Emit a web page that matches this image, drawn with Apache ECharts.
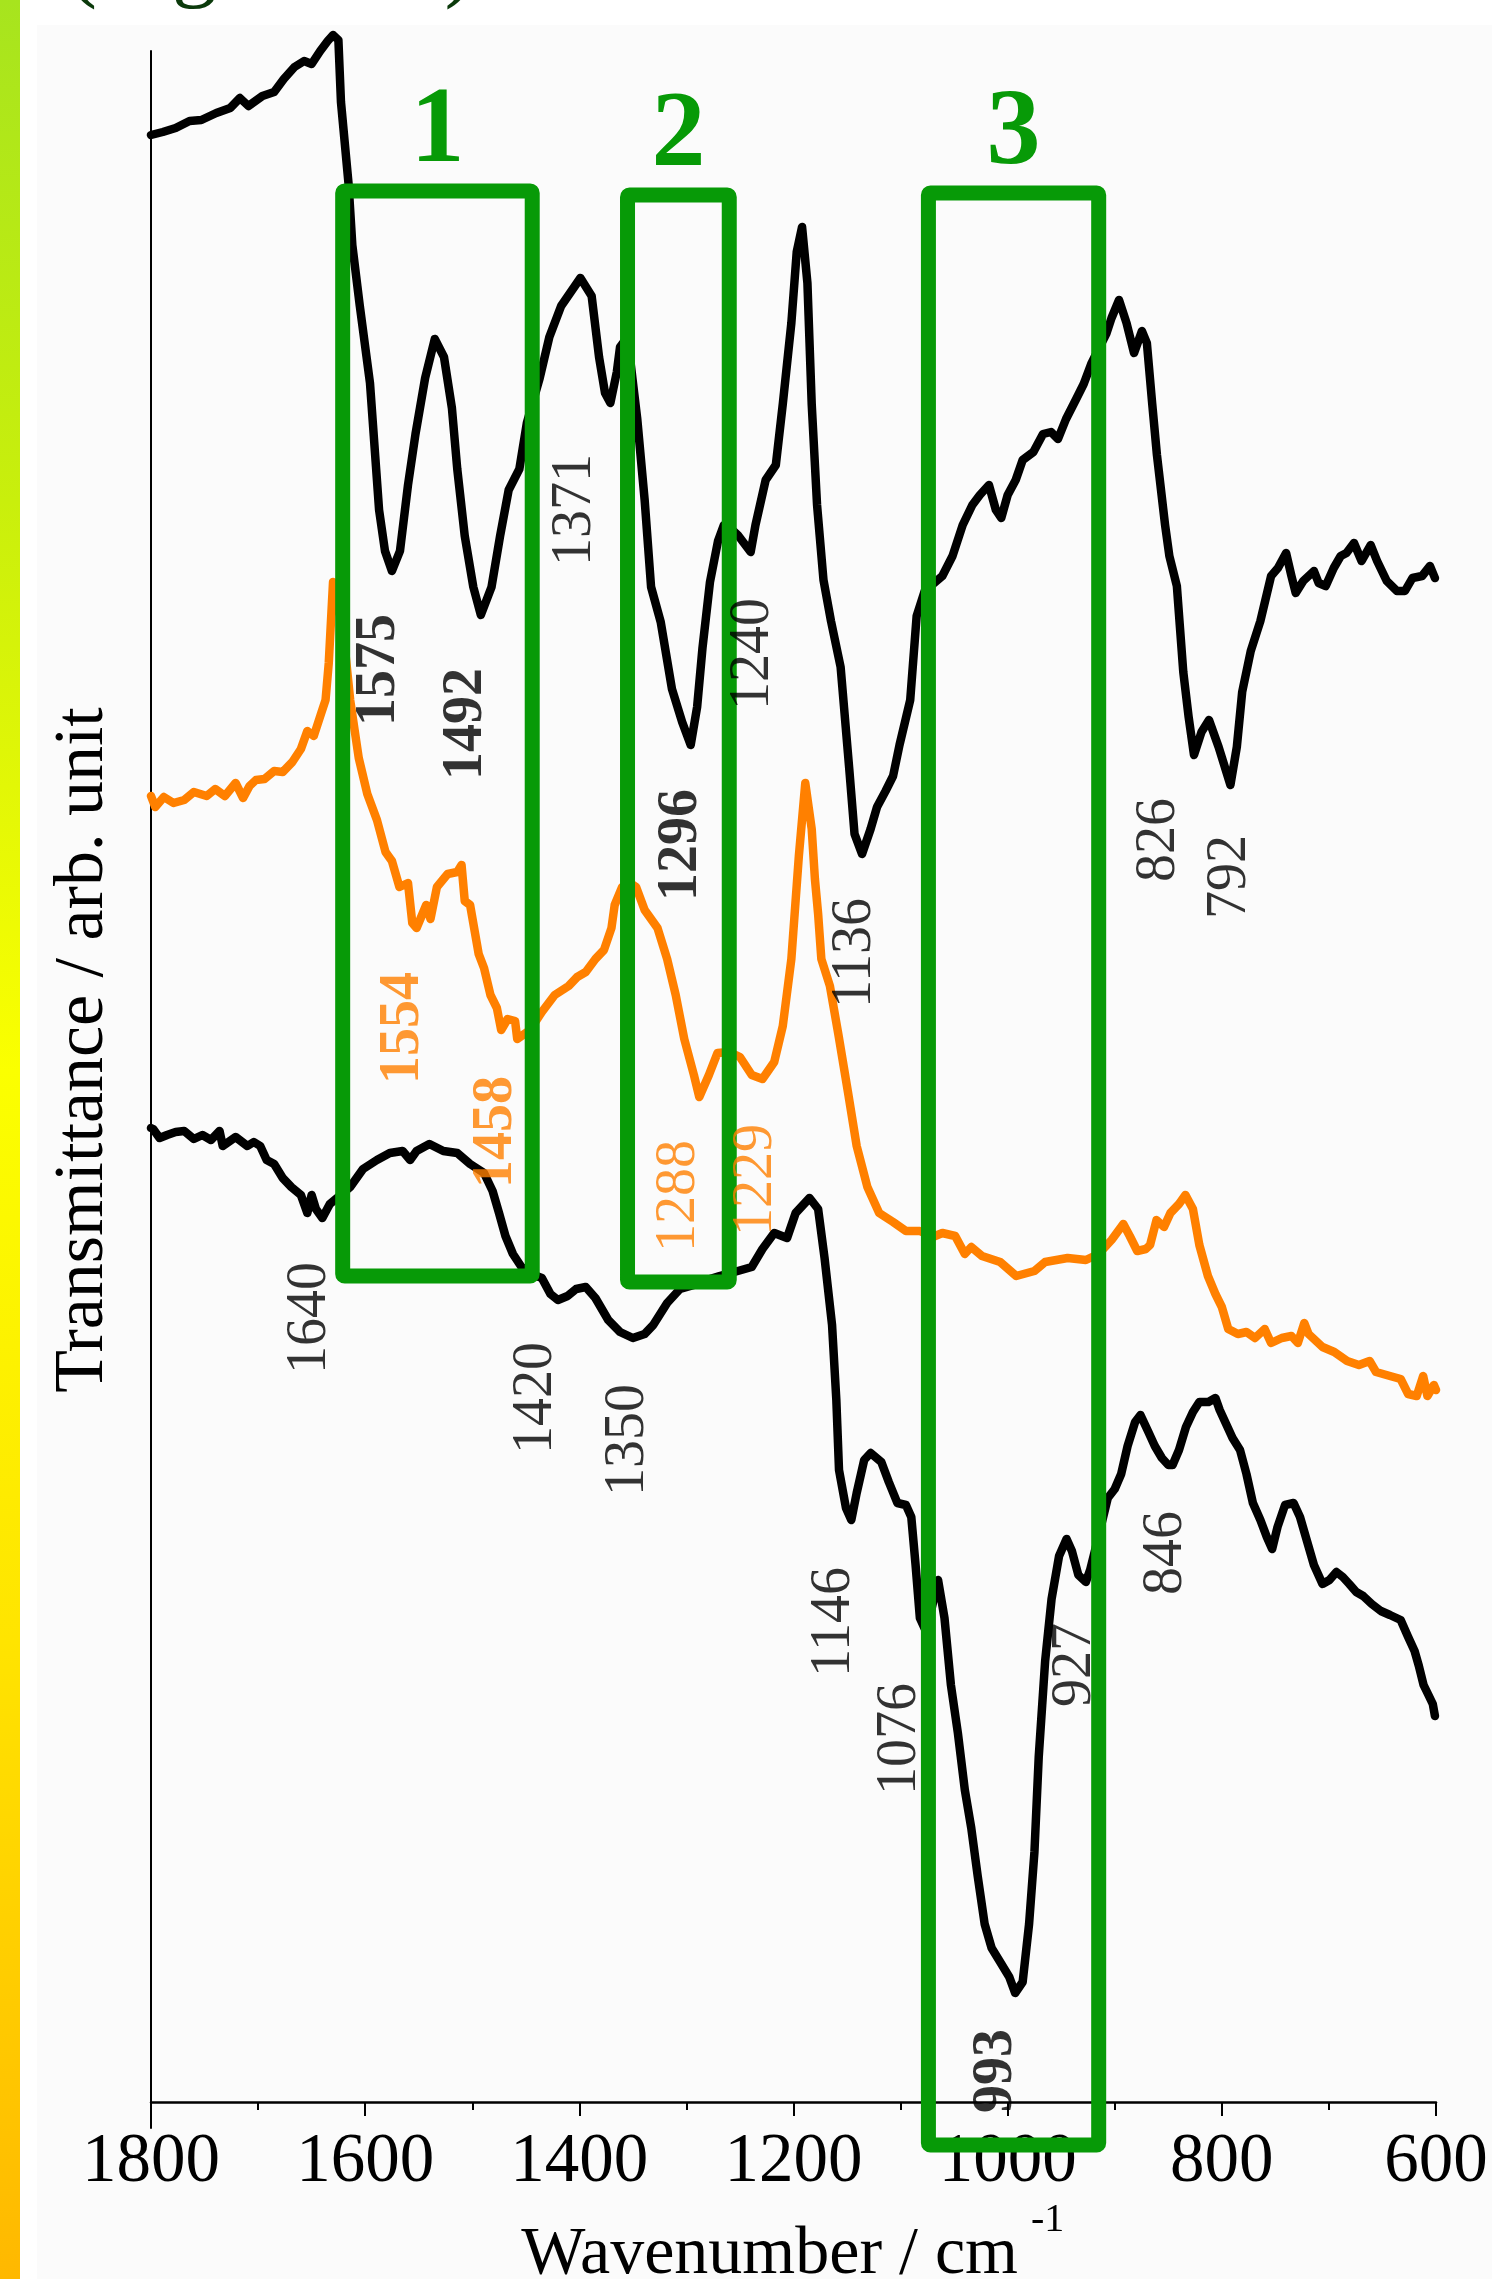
<!DOCTYPE html>
<html>
<head>
<meta charset="utf-8">
<title>FT-IR spectra</title>
<script src="https://cdn.jsdelivr.net/npm/echarts@6/dist/echarts.min.js"></script>
<style>
  html, body { margin: 0; padding: 0; background: #ffffff; }
  #chart { width: 1492px; height: 2279px; }
</style>
</head>
<body>
<div id="chart"></div>
<script>
// Spectra: [wavenumber (cm-1), transmittance (arb. unit, offset)]
const upperSpectrum = [
  [1800,196.7],[1789,197.0],[1777,197.4],[1764,198.1],[1753,198.2],[1739,198.9],[1726,199.4],[1717,200.4],
  [1709,199.6],[1696,200.6],[1685,201.0],[1676,202.3],[1666,203.5],[1657,204.1],[1650,203.8],[1642,205.1],
  [1635,206.1],[1630,206.7],[1625,206.2],[1622.6,200.0],[1615.5,191.8],[1612,185.7],[1605,179.6],[1595.5,171.9],
  [1587,159.2],[1581.5,155.1],[1575,153.1],[1567.5,155.1],[1560,161.7],[1553,166.8],[1544,172.4],[1535,176.3],
  [1526.4,174.5],[1519,169.4],[1514,163.3],[1507,156.6],[1499,151.5],[1492,148.7],[1482,151.5],[1474,156.6],
  [1466,161.2],[1456,163.3],[1449,167.9],[1437,172.4],[1428,176.5],[1417,179.6],[1399,182.4],[1388.5,180.6],
  [1381.6,174.5],[1376,170.9],[1371,169.9],[1365,173.0],[1362,175.5],[1355,176.5],[1346,168.4],[1339,160.2],
  [1333,151.5],[1324,148.0],[1313.5,141.3],[1304,138.0],[1296,135.7],[1290,139.5],[1285,145.4],[1278,152.0],
  [1270.5,156.1],[1265,157.7],[1260,157.5],[1252,156.7],[1240,155.0],[1235.5,157.7],[1226,162.2],[1216.5,163.7],
  [1210,169.8],[1202,177.9],[1197,185.0],[1192,187.5],[1187,181.9],[1183,169.8],[1178,159.7],[1172,152.2],
  [1165,148.1],[1156,143.5],[1148,133.4],[1143,126.8],[1136,124.8],[1128,127.3],[1122,129.5],[1114,131.1],
  [1107,132.6],[1101,135.7],[1095,138.4],[1091,140.2],[1085,148.6],[1077.5,151.1],[1061,152.6],[1051.5,154.6],
  [1042,157.7],[1033,159.7],[1026,160.7],[1017.5,161.7],[1011,159.2],[1006,158.4],[1000,160.7],[992.5,162.2],
  [986,164.2],[976,165.0],[967,166.8],[959.5,167.0],[953,166.3],[945.5,168.3],[936,170.3],[929,171.8],
  [922,173.8],[907.6,176.9],[903,178.4],[896,180.2],[889,177.9],[882,174.9],[874.6,177.1],[870,175.9],
  [865,169.8],[860.6,164.7],[853,157.7],[849,154.6],[842,151.6],[836,143.0],[831,138.5],[826,134.7],
  [819,137.0],[812,138.2],[803,135.5],[792,131.7],[786,135.5],[781,141.0],[773,145.1],[764,148.1],
  [754,152.6],[747.6,153.4],[740,154.9],[735,152.6],[731,150.9],[724,152.1],[714,153.1],[709.6,151.9],
  [703,151.6],[695.5,153.4],[689,154.6],[683.6,154.9],[676.6,155.9],[669.5,154.1],[661,155.7],[655,154.1],
  [646,152.1],[636.5,151.1],[629,151.1],[622,152.4],[613,152.6],[605.6,153.6],[601,152.4]
];

const middleSpectrum = [
  [1800,130.6],[1796,129.5],[1788,130.5],[1779,129.9],[1769,130.2],[1760,131.0],[1748,130.6],[1740,131.3],
  [1731,130.6],[1721,131.9],[1714,130.4],[1708,131.6],[1702,132.2],[1694,132.3],[1685,133.1],[1677,133.0],
  [1668,134.0],[1660,135.3],[1654,137.1],[1648,136.6],[1641,138.9],[1637,140.2],[1634,143.9],[1630,152.0],
  [1627,151.0],[1620,146.5],[1614,140.2],[1606,134.4],[1598,130.8],[1589,128.2],[1581,125.0],[1575,124.1],
  [1568,121.5],[1560,121.9],[1556,117.9],[1552,117.4],[1543,119.7],[1539,118.3],[1533,121.5],[1523,122.8],
  [1514,123.0],[1510,123.7],[1507,120.1],[1502,119.7],[1494,114.8],[1489,113.4],[1483,110.7],[1477,109.4],
  [1473,107.2],[1467,108.3],[1460,108.1],[1458,106.3],[1446,107.2],[1435,109.0],[1423,110.7],[1410,111.6],
  [1402,112.5],[1394,113.0],[1385,114.3],[1377,115.2],[1370,117.4],[1367,119.7],[1360,121.5],[1354,122.0],
  [1347,121.5],[1339,119.2],[1327,117.4],[1318,114.3],[1310,110.7],[1302,106.3],[1293,102.7],[1288,100.5],
  [1279,102.7],[1271,104.9],[1260,105.0],[1250,104.5],[1239,102.7],[1229,102.3],[1218,104.0],[1210,107.6],
  [1202,114.3],[1195,124.6],[1189,131.9],[1183,127.3],[1180,122.3],[1177,118.8],[1174,114.3],[1166,111.6],
  [1158,106.7],[1149,100.9],[1141,95.6],[1131,91.5],[1120,88.9],[1107,88.0],[1095,87.1],[1082,87.1],
  [1070,86.5],[1061,86.9],[1049,86.6],[1040,84.8],[1034,85.5],[1024,84.6],[1007,84.0],[992,82.6],
  [975,83.1],[965,84.0],[944,84.4],[927,84.2],[915,84.8],[903,86.2],[892,87.8],[886,86.6],
  [879,85.1],[871,85.3],[867,85.7],[861,88.2],[854,87.5],[848,88.9],[840,89.8],[834,90.7],
  [827,89.3],[821,85.7],[813,82.6],[806,80.8],[800,79.5],[794,77.3],[785,76.8],[777,77.0],
  [769,76.4],[760,77.3],[754,75.9],[744,76.4],[735,76.6],[729,75.9],[723,77.9],[719,76.8],
  [706,75.5],[695,75.0],[683,74.1],[672,73.7],[662,74.1],[656,73.0],[643,72.6],[633,72.3],
  [626,70.8],[618,70.6],[612,72.6],[608,70.6],[602,71.7],[600,71.2]
];

const lowerSpectrum = [
  [1800,97.4],[1798,97.3],[1792,96.4],[1785,96.7],[1777,97.0],[1769,97.1],[1760,96.3],[1752,96.7],
  [1744,96.2],[1736,97.1],[1733,95.6],[1721,96.5],[1710,95.6],[1704,96.0],[1698,95.6],[1692,94.2],
  [1685,93.8],[1677,92.4],[1669,91.5],[1660,90.7],[1654,88.9],[1650,90.7],[1646,89.3],[1640,88.4],
  [1633,89.8],[1624,90.6],[1614,91.5],[1602,93.3],[1589,94.2],[1577,94.9],[1565,95.1],[1558,94.2],
  [1552,95.1],[1540,95.8],[1527,95.1],[1514,94.9],[1502,93.8],[1489,92.9],[1481,91.1],[1475,88.9],
  [1469,86.6],[1462,84.8],[1454,83.5],[1445,82.8],[1435,82.4],[1427,80.8],[1420,80.2],[1411,80.6],
  [1403,81.3],[1394,81.5],[1385,80.4],[1373,78.2],[1362,77.0],[1350,76.4],[1339,76.8],[1331,77.7],
  [1318,79.9],[1306,81.3],[1293,81.7],[1281,82.2],[1269,82.6],[1252,83.1],[1239,83.5],[1229,85.3],
  [1218,86.9],[1206,86.4],[1198,88.9],[1185,90.4],[1177,89.3],[1171,84.4],[1164,77.7],[1160,70.2],
  [1157.5,63.2],[1151,59.4],[1146,58.2],[1141,60.9],[1134,64.2],[1128,64.9],[1118,64.0],[1111,62.0],
  [1103,59.9],[1095,59.7],[1090,58.5],[1086,53.7],[1082,48.4],[1076,47.0],[1065,52.2],[1059,48.4],
  [1053,41.7],[1046.5,36.9],[1040,31.2],[1034,27.4],[1028,22.6],[1021.5,17.8],[1015,15.4],[1007,14.0],
  [998.5,12.5],[993,10.9],[986,12.0],[980,17.8],[975,25.0],[971,34.5],[965,44.1],[959,50.3],
  [952,54.6],[945,56.3],[940,55.1],[934,52.7],[927,52.0],[923,53.2],[916,56.2],[906.5,60.4],
  [900,61.3],[894,62.8],[888,65.6],[881,68.0],[876,68.7],[869,67.1],[862.6,65.6],[856,64.4],
  [850,63.7],[846,63.7],[840,65.2],[833.5,67.5],[827,69.0],[821,70.0],[812.5,70.0],[806,70.4],
  [802,69.2],[796,67.8],[790,66.4],[783,65.2],[777,62.8],[771,59.9],[764,58.2],[758,56.5],
  [753,55.3],[748,57.5],[741,59.7],[733,59.9],[727,58.5],[720.5,56.1],[714,53.7],[706,51.8],
  [699.5,52.2],[693,53.0],[687,52.5],[681,51.8],[674.5,51.0],[668,50.6],[660,49.8],[651.5,49.1],
  [643,48.7],[633,48.2],[626,46.5],[620,45.1],[616,43.6],[611.6,41.7],[607.5,40.8],[603,39.8],[601,38.6]
];

// Band assignments (cm-1) labelled on each spectrum
const upperPeaks = [1575, 1492, 1371, 1296, 1240, 1136, 826, 792];
const middlePeaks = [1554, 1458, 1288, 1229];
const lowerPeaks = [1640, 1420, 1350, 1146, 1076, 993, 927, 846];
const boldPeaks = [1575, 1492, 1296, 1554, 1458, 993];

// Highlighted spectral regions (cm-1)
const regionNames = ['1', '2', '3'];
const regionRanges = [[1621, 1444], [1355, 1260], [1074, 915]];

// Axis ticks
const xTicks = [1800, 1600, 1400, 1200, 1000, 800, 600];

// ---- layout ----
// where each band label sits: [wavenumber, ordinate] of the label centre
const labelAnchor = {
  1575: [1587, 143.2], 1492: [1505, 137.8], 1371: [1404, 159.2], 1296: [1305, 125.7],
  1240: [1238, 144.8], 1136: [1142, 114.9], 826: [858, 126.2], 792: [792, 122.5],
  1554: [1564, 107.4], 1458: [1477, 97.0], 1288: [1307, 90.6], 1229: [1235, 92.2],
  1640: [1651, 78.4], 1420: [1440, 70.4], 1350: [1354, 66.2], 1146: [1162, 48.0],
  1076: [1100, 36.3], 993: [1010, 3.1], 927: [937, 43.7], 846: [852, 54.9]
};
// vertical extent of each region frame [top, bottom]
const regionFrameY = [[191.1, 82.6], [190.7, 82.0], [190.9, -4.3]];

const SERIF = '"Times New Roman", "Liberation Serif", serif';
const GREEN = '#079a07';
const ORANGE = '#ff8000';

function labelItems(peaks) {
  return peaks.map(p => ({
    name: String(p),
    value: labelAnchor[p],
    label: { fontWeight: boldPeaks.includes(p) ? 'bold' : 'normal' }
  }));
}

function labelSeries(peaks, color) {
  return {
    type: 'scatter',
    data: labelItems(peaks),
    symbolSize: 1,
    itemStyle: { color: 'rgba(0,0,0,0)' },
    silent: true,
    z: 20,
    label: {
      show: true,
      position: 'inside',
      rotate: 90,
      formatter: '{b}',
      fontFamily: SERIF,
      fontSize: 56,
      color: color
    }
  };
}

function spectrumSeries(data, color) {
  return {
    type: 'line',
    data: data,
    showSymbol: false,
    clip: false,
    silent: true,
    z: 5,
    lineStyle: { color: color, width: 8.5, cap: 'round', join: 'round' }
  };
}

const regionData = regionRanges.map((r, i) => [r[0], r[1], regionFrameY[i][0], regionFrameY[i][1], i]);

const chart = echarts.init(document.getElementById('chart'), null, { renderer: 'canvas' });

chart.setOption({
  animation: false,
  backgroundColor: '#ffffff',
  grid: { left: 151, right: 56, top: 51, bottom: 151, containLabel: false },
  xAxis: {
    type: 'value',
    min: 600,
    max: 1800,
    interval: 200,
    inverse: true,
    axisLine: { show: true, onZero: true, lineStyle: { color: '#000', width: 2.5 } },
    axisTick: { show: true, inside: false, length: 14, lineStyle: { color: '#000', width: 2 } },
    minorTick: { show: true, splitNumber: 2, length: 8, lineStyle: { color: '#000', width: 2 } },
    splitLine: { show: false },
    axisLabel: {
      show: true,
      margin: 0,
      fontFamily: SERIF,
      fontSize: 69,
      color: '#000',
      formatter: v => (xTicks.includes(v) ? String(v) : '')
    }
  },
  yAxis: {
    type: 'value',
    min: -2.6,
    max: 205.1,
    axisLine: { show: true, onZero: false, lineStyle: { color: '#000', width: 2 } },
    axisTick: { show: false },
    axisLabel: { show: false },
    splitLine: { show: false }
  },
  graphic: [
    {
      type: 'rect', z: -20, silent: true,
      shape: { x: 37, y: 25, width: 1455, height: 2254 },
      style: { fill: '#fbfbfb' }
    },
    {
      type: 'rect', z: -10, silent: true,
      shape: { x: 0, y: 0, width: 20, height: 2279 },
      style: {
        fill: new echarts.graphic.LinearGradient(0, 0, 0, 1, [
          { offset: 0, color: '#a7e41e' },
          { offset: 0.22, color: '#c9ef0c' },
          { offset: 0.47, color: '#fbff00' },
          { offset: 0.72, color: '#ffe400' },
          { offset: 1, color: '#ffb800' }
        ])
      }
    },
    {
      type: 'text', silent: true, x: 67, y: -34,
      style: {
        text: '(Figure 12)', font: '90px ' + SERIF, fill: '#0b3a0b',
        align: 'left', verticalAlign: 'middle', textAlign: 'left', textVerticalAlign: 'middle'
      }
    },
    {
      type: 'text', silent: true, x: 84, y: 1050, rotation: Math.PI / 2,
      style: {
        text: 'Transmittance / arb. unit', font: '70px ' + SERIF, fill: '#000',
        align: 'center', verticalAlign: 'middle', textAlign: 'center', textVerticalAlign: 'middle'
      }
    },
    {
      type: 'text', silent: true, x: 1018, y: 2255,
      style: {
        text: 'Wavenumber / cm', font: '68px ' + SERIF, fill: '#000',
        align: 'right', verticalAlign: 'middle', textAlign: 'right', textVerticalAlign: 'middle'
      }
    },
    {
      type: 'text', silent: true, x: 1031, y: 2220,
      style: {
        text: '-1', font: '40px ' + SERIF, fill: '#000',
        align: 'left', verticalAlign: 'middle', textAlign: 'left', textVerticalAlign: 'middle'
      }
    }
  ],
  series: [
    spectrumSeries(upperSpectrum, '#000000'),
    spectrumSeries(middleSpectrum, ORANGE),
    spectrumSeries(lowerSpectrum, '#000000'),
    {
      type: 'custom',
      data: regionData,
      silent: true,
      clip: false,
      z: 10,
      renderItem: function (params, api) {
        const a = api.coord([api.value(0), api.value(2)]);
        const b = api.coord([api.value(1), api.value(3)]);
        const left = Math.min(a[0], b[0]);
        const w = Math.abs(b[0] - a[0]);
        const name = regionNames[api.value(4)];
        return {
          type: 'group',
          children: [
            {
              type: 'rect',
              shape: { x: left, y: a[1], width: w, height: b[1] - a[1], r: 2 },
              style: { fill: 'none', stroke: GREEN, lineWidth: 15, lineJoin: 'round' }
            },
            {
              type: 'text',
              style: {
                text: name, x: left + w / 2, y: a[1] - 58,
                font: 'bold 108px ' + SERIF, fill: GREEN,
                align: 'center', verticalAlign: 'middle', textAlign: 'center', textVerticalAlign: 'middle'
              }
            }
          ]
        };
      }
    },
    labelSeries(upperPeaks, '#000000'),
    labelSeries(middlePeaks, ORANGE),
    labelSeries(lowerPeaks, '#000000')
  ]
});
</script>
</body>
</html>
